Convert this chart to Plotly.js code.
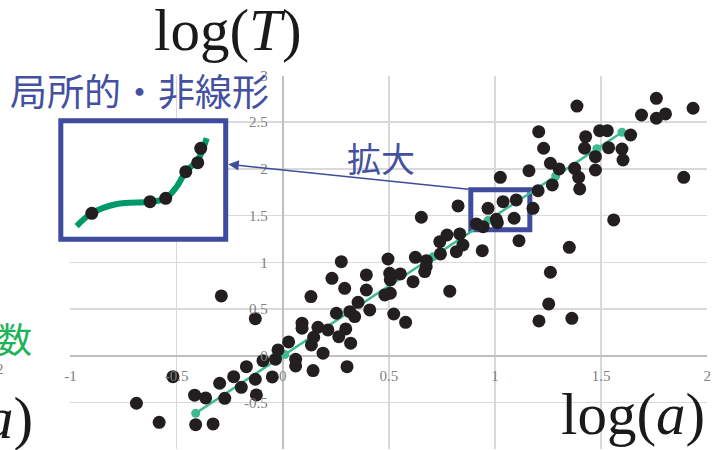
<!DOCTYPE html>
<html>
<head>
<meta charset="utf-8">
<script src="https://cdn.plot.ly/plotly-3.0.1.min.js"></script>
<style>html,body{margin:0;padding:0;background:#fff;}#chart{width:723px;height:450px;}</style>
</head>
<body>
<div id="chart"></div>
<script>
// ---- main scatter data: log(a) vs log(T) ----
var xs = [-0.689,-0.582,-0.517,-0.415,-0.363,-0.41,-0.328,-0.297,-0.273,-0.289,-0.129,-0.231,-0.195,-0.171,-0.129,-0.124,-0.093,-0.049,-0.034,-0.022,
0.028,0.061,0.061,0.091,0.091,0.133,0.135,0.146,0.143,0.166,0.19,0.213,0.232,0.253,0.264,0.276,0.292,0.297,0.303,0.316,
0.32,0.339,0.355,0.394,0.394,0.41,0.481,0.507,0.496,0.504,0.507,0.523,0.554,0.579,0.614,0.625,0.653,0.669,0.676,0.677,
0.74,0.743,0.774,0.787,0.818,0.826,0.834,0.849,0.94,0.912,0.944,0.967,1.006,1.011,1.025,1.038,1.09,1.1,1.113,1.16,
1.179,1.203,1.206,1.229,1.261,1.27,1.302,1.253,1.207,1.261,1.362,1.35,1.375,1.394,1.399,1.386,1.427,1.422,1.473,1.473,
1.493,1.529,1.535,1.559,1.598,1.603,1.639,1.69,1.76,1.76,1.803,1.889,1.933];
var ys = [-0.51,-0.714,-0.225,-0.424,-0.453,-0.739,-0.731,-0.296,-0.457,0.639,0.396,-0.225,-0.339,-0.118,-0.253,-0.421,-0.054,-0.228,-0.039,0.061,
0.147,-0.039,-0.11,0.347,0.293,0.632,0.115,0.197,-0.16,0.304,0.026,0.275,0.828,0.454,0.203,1.006,0.721,0.286,-0.118,0.471,
0.133,0.418,0.571,0.864,0.703,0.489,0.65,0.668,1.035,0.882,0.81,0.446,0.875,0.357,0.792,1.053,1.482,0.9,0.953,1.017,
1.22,1.089,1.292,0.69,1.113,1.603,1.303,1.185,1.124,1.41,1.381,1.578,1.46,1.424,1.91,1.649,1.471,1.667,1.231,1.98,
1.578,1.767,2.398,2.221,2.06,1.828,2.0,0.554,0.372,0.893,0.4,1.16,2.006,1.91,1.785,2.673,2.345,2.221,2.131,1.988,
2.409,2.409,2.227,1.453,2.213,2.095,2.363,2.577,2.756,2.542,2.588,1.91,2.649];

// ---- fitted line with markers ----
var fitX = [-0.41, 0.01, 0.708, 0.967, 1.286, 1.48, 1.598];
var fitY = [-0.617, 0.012, 1.058, 1.446, 1.924, 2.215, 2.392];

// ---- inset (local, nonlinear) ----
var insetCurveX = [0.123, 0.209, 0.351, 0.540, 0.629, 0.691, 0.743, 0.811, 0.862];
var insetCurveY = [0.146, 0.244, 0.315, 0.333, 0.359, 0.448, 0.564, 0.654, 0.821];
var insetDotX = [0.209, 0.540, 0.629, 0.743, 0.811, 0.828];
var insetDotY = [0.244, 0.333, 0.359, 0.564, 0.633, 0.744];

// ---- ticks ----
var xTickVals = [-1, -0.5, 0, 0.5, 1, 1.5, 2];
var xTickText = ['-1', '-0.5', '0', '0.5', '1', '1.5', '2'];
var yTickVals = [-1, -0.5, 0, 0.5, 1, 1.5, 2, 2.5, 3];
var yTickText = ['-1', '-0.5', '0', '0.5', '1', '1.5', '2', '2.5', '3'];

var W = 723, H = 450;
function px(x){ return x / W; }
function py(y){ return 1 - y / H; }

var blue = '#3f4b9c';
var tickFont = {family: '"Liberation Serif", "Times New Roman", serif', size: 15, color: '#808080'};
var bigFont = {family: '"Liberation Serif", "Times New Roman", serif', size: 59, color: '#1a1a1a'};

var traces = [
  {x: fitX, y: fitY, type: 'scatter', mode: 'lines+markers', xaxis: 'x', yaxis: 'y',
   line: {color: '#3dbb8e', width: 2.5}, marker: {color: '#3dbb8e', size: 9}, hoverinfo: 'none'},
  {x: xs, y: ys, type: 'scatter', mode: 'markers', xaxis: 'x', yaxis: 'y',
   marker: {color: '#231f20', size: 13}, hoverinfo: 'none'},
  {x: insetCurveX, y: insetCurveY, type: 'scatter', mode: 'lines', xaxis: 'x2', yaxis: 'y2',
   line: {color: '#009a6a', width: 6, shape: 'spline', smoothing: 1}, hoverinfo: 'none'},
  {x: insetDotX, y: insetDotY, type: 'scatter', mode: 'markers', xaxis: 'x2', yaxis: 'y2',
   marker: {color: '#231f20', size: 13}, hoverinfo: 'none'}
];

var layout = {
  width: W, height: H,
  margin: {l: 0, r: 0, t: 0, b: 0},
  paper_bgcolor: '#ffffff', plot_bgcolor: 'rgba(0,0,0,0)',
  showlegend: false,
  xaxis: {
    domain: [70.4 / W, 707.3 / W], range: [-1, 2],
    anchor: 'free', position: py(355.7),
    tickvals: xTickVals, ticktext: xTickText,
    ticks: 'outside', ticklen: 6, tickcolor: 'rgba(0,0,0,0)',
    tickfont: tickFont,
    showgrid: true, gridcolor: '#d9d9d9', gridwidth: 1.5,
    zeroline: true, zerolinecolor: '#bfbfbf', zerolinewidth: 2,
    showline: false, fixedrange: true
  },
  yaxis: {
    domain: [py(449), py(75.5)], range: [-1, 3],
    anchor: 'free', position: px(282.7),
    tickvals: yTickVals, ticktext: yTickText,
    ticks: 'outside', ticklen: 12, tickcolor: 'rgba(0,0,0,0)',
    tickfont: tickFont,
    showgrid: true, gridcolor: '#d9d9d9', gridwidth: 1.5,
    zeroline: true, zerolinecolor: '#bfbfbf', zerolinewidth: 2,
    showline: false, fixedrange: true
  },
  xaxis2: {domain: [55 / W, 231 / W], range: [0, 1], anchor: 'y2', visible: false, fixedrange: true},
  yaxis2: {domain: [py(245), py(115)], range: [0, 1], anchor: 'x2', visible: false, fixedrange: true},
  shapes: [
    {type: 'rect', xref: 'x2', yref: 'y2', x0: 0.033, x1: 0.970, y0: 0.045, y1: 0.955,
     layer: 'below', fillcolor: '#ffffff', line: {color: blue, width: 5}},
    {type: 'rect', xref: 'x', yref: 'y', x0: 0.886, x1: 1.164, y0: 1.348, y1: 1.776,
     layer: 'between', fillcolor: 'rgba(0,0,0,0)', line: {color: blue, width: 5}}
  ],
  annotations: [
    {xref: 'paper', yref: 'paper', x: px(152), y: py(30), xanchor: 'left', yanchor: 'middle',
     text: 'log(<i>T</i>)', showarrow: false, font: bigFont},
    {xref: 'paper', yref: 'paper', x: px(707), y: py(414), xanchor: 'right', yanchor: 'middle',
     text: 'log(<i>a</i>)', showarrow: false, font: bigFont},
    {xref: 'paper', yref: 'paper', x: px(35), y: py(418), xanchor: 'right', yanchor: 'middle',
     text: 'log(<i>a</i>)', showarrow: false, font: bigFont},
    {xref: 'paper', yref: 'paper', x: px(8), y: py(90), xanchor: 'left', yanchor: 'middle',
     text: '局所的・非線形', showarrow: false,
     font: {family: '"Noto Sans CJK JP", sans-serif', size: 37, color: '#4450a0'}},
    {xref: 'paper', yref: 'paper', x: px(381), y: py(157), xanchor: 'center', yanchor: 'middle',
     text: '拡大', showarrow: false,
     font: {family: '"Noto Sans CJK JP", sans-serif', size: 34, color: '#4450a0'}},
    {xref: 'paper', yref: 'paper', x: px(34), y: py(337), xanchor: 'right', yanchor: 'middle',
     text: '関数', showarrow: false,
     font: {family: '"Noto Sans CJK JP", sans-serif', size: 35, color: '#1fb25a'}},
    {xref: 'paper', yref: 'paper', x: px(6), y: py(369), xanchor: 'right', yanchor: 'middle',
     text: '2', showarrow: false, font: tickFont},
    {xref: 'paper', yref: 'paper', x: px(228.3), y: py(164.3), axref: 'pixel', ayref: 'pixel',
     ax: 241.7, ay: 25, text: '', showarrow: true, arrowhead: 2, arrowsize: 1.4,
     arrowwidth: 1.5, arrowcolor: blue, standoff: 0}
  ]
};

Plotly.newPlot('chart', traces, layout, {displayModeBar: false, staticPlot: true});
</script>
</body>
</html>
